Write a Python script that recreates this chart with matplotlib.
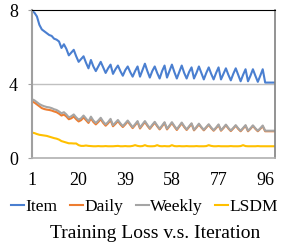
import matplotlib
matplotlib.use("Agg")
import matplotlib.pyplot as plt

plt.rcParams['font.family'] = ['Liberation Serif', 'DejaVu Serif']

iterations = list(range(1, 101))
x_ticks = [1, 20, 39, 58, 77, 96]
y_ticks = [0, 4, 8]

item = [7.95, 7.85, 7.65, 7.2, 6.95, 6.85, 6.75, 6.65, 6.6, 6.45,
        6.4, 6.3, 5.95, 6.15, 5.9, 5.55, 5.7, 5.85, 5.5, 5.2,
        5.35, 5.5, 5.15, 4.85, 5.3, 4.95, 4.7, 4.95, 5.2, 4.9,
        4.6, 4.85, 5.05, 4.55, 4.8, 5.0, 4.7, 4.45, 4.75, 4.95,
        4.65, 4.4, 4.7, 4.95, 4.4, 4.75, 5.1, 4.7, 4.35, 4.7,
        4.95, 4.6, 4.3, 4.7, 5.0, 4.35, 4.7, 5.05, 4.65, 4.3,
        4.65, 5.0, 4.6, 4.3, 4.65, 4.9, 4.3, 4.6, 4.95, 4.6,
        4.25, 4.6, 4.9, 4.55, 4.25, 4.6, 4.9, 4.25, 4.55, 4.85,
        4.5, 4.2, 4.55, 4.85, 4.5, 4.15, 4.5, 4.8, 4.15, 4.45,
        4.8, 4.45, 4.12, 4.45, 4.8, 4.08, 4.08, 4.08, 4.08, 4.08]

daily = [3.05, 3.0, 2.9, 2.8, 2.7, 2.65, 2.62, 2.6, 2.57, 2.52,
         2.48, 2.4, 2.3, 2.35, 2.25, 2.1, 2.15, 2.25, 2.1, 1.98,
         2.05, 2.2, 2.05, 1.9, 2.15, 1.95, 1.82, 1.95, 2.1, 1.9,
         1.75, 1.88, 2.05, 1.72, 1.85, 2.0, 1.82, 1.68, 1.82, 1.98,
         1.8, 1.62, 1.78, 1.95, 1.6, 1.78, 1.95, 1.75, 1.58, 1.75,
         1.92, 1.72, 1.55, 1.72, 1.9, 1.55, 1.72, 1.9, 1.7, 1.52,
         1.7, 1.88, 1.68, 1.52, 1.68, 1.85, 1.5, 1.65, 1.82, 1.65,
         1.5, 1.65, 1.8, 1.62, 1.48, 1.62, 1.78, 1.48, 1.62, 1.78,
         1.6, 1.46, 1.6, 1.75, 1.58, 1.45, 1.6, 1.75, 1.45, 1.58,
         1.74, 1.58, 1.45, 1.58, 1.72, 1.45, 1.45, 1.45, 1.45, 1.45]

weekly = [3.18, 3.12, 3.02, 2.92, 2.85, 2.8, 2.76, 2.74, 2.7, 2.64,
          2.6, 2.52, 2.42, 2.48, 2.36, 2.2, 2.26, 2.36, 2.2, 2.08,
          2.15, 2.3, 2.14, 1.98, 2.24, 2.03, 1.9, 2.03, 2.18, 1.97,
          1.82, 1.95, 2.12, 1.78, 1.92, 2.06, 1.88, 1.73, 1.88, 2.03,
          1.85, 1.67, 1.83, 2.0, 1.65, 1.83, 2.0, 1.8, 1.62, 1.8,
          1.96, 1.76, 1.59, 1.76, 1.94, 1.59, 1.76, 1.94, 1.74, 1.56,
          1.74, 1.92, 1.72, 1.55, 1.72, 1.88, 1.53, 1.68, 1.86, 1.68,
          1.53, 1.68, 1.83, 1.65, 1.51, 1.65, 1.82, 1.51, 1.65, 1.81,
          1.63, 1.49, 1.63, 1.78, 1.61, 1.48, 1.63, 1.78, 1.48, 1.61,
          1.77, 1.61, 1.48, 1.61, 1.76, 1.48, 1.48, 1.48, 1.48, 1.48]

lsdm = [1.38, 1.35, 1.3, 1.26, 1.24, 1.22, 1.2, 1.16, 1.12, 1.08,
        1.05, 1.0, 0.92, 0.88, 0.84, 0.8, 0.8, 0.79, 0.79, 0.7,
        0.66, 0.66, 0.68, 0.66, 0.65, 0.64, 0.64, 0.65, 0.64, 0.64,
        0.65, 0.64, 0.64, 0.64, 0.65, 0.66, 0.64, 0.64, 0.65, 0.64,
        0.64, 0.66, 0.7, 0.66, 0.64, 0.65, 0.7, 0.65, 0.64, 0.64,
        0.65, 0.7, 0.65, 0.64, 0.65, 0.64, 0.64, 0.7, 0.65, 0.64,
        0.65, 0.64, 0.64, 0.65, 0.64, 0.64, 0.64, 0.65, 0.64, 0.64,
        0.64, 0.65, 0.7, 0.66, 0.64, 0.64, 0.65, 0.64, 0.64, 0.64,
        0.64, 0.65, 0.64, 0.64, 0.64, 0.65, 0.7, 0.65, 0.64, 0.64,
        0.64, 0.64, 0.65, 0.64, 0.64, 0.64, 0.64, 0.64, 0.64, 0.64]

series = [("Item", item, "#4a7fd0"),
          ("Daily", daily, "#ED7D31"),
          ("Weekly", weekly, "#A5A5A5"),
          ("LSDM", lsdm, "#FFC000")]

fig = plt.figure(figsize=(2.91, 2.44), dpi=100)
ax = fig.add_axes([0.110, 0.352, 0.835, 0.607])

for name, vals, col in series:
    ax.plot(iterations, vals, color=col, lw=1.5, label=name)

ax.set_xlim(1, 100)
ax.set_ylim(0, 8)
ax.set_xticks(x_ticks)
ax.set_yticks(y_ticks)
ax.tick_params(axis='x', length=0, pad=10, labelsize=13)
ax.tick_params(axis='y', length=3, pad=7, color='#a0a0a0', labelsize=13)
ax.axhline(4, color='#c0c0c0', lw=1.0, zorder=0)

ax.spines['left'].set_color('#a0a0a0')
ax.spines['left'].set_linewidth(1.5)
ax.spines['bottom'].set_color('#b0b0b0')
ax.spines['bottom'].set_linewidth(1.2)
ax.spines['top'].set_color('black')
ax.spines['top'].set_linewidth(0.8)
ax.spines['right'].set_color('#808080')
ax.spines['right'].set_linewidth(1.2)

fig.legend(loc='center', bbox_to_anchor=(0.497, 0.153), ncol=4, frameon=False,
           fontsize=12.5, handlelength=0.75, handletextpad=0.1,
           columnspacing=0.7, borderpad=0)
fig.text(0.533, 0.045, "Training Loss v.s. Iteration", ha='center', va='center',
         fontsize=14)

fig.savefig("out.png", dpi=100)
